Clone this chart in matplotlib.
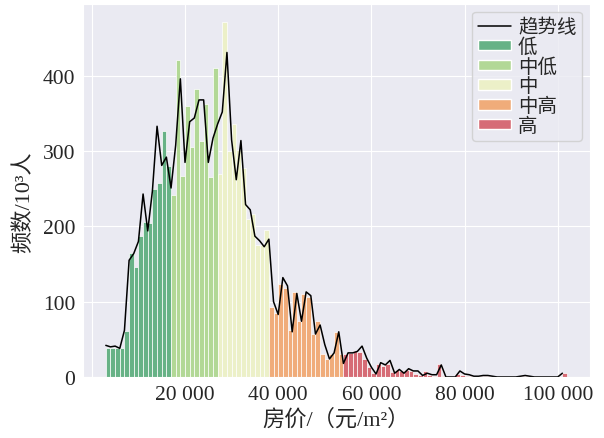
import matplotlib
matplotlib.use('Agg')
import matplotlib.pyplot as plt
import seaborn as sns
import numpy as np
from matplotlib.patches import Patch
from matplotlib.lines import Line2D

# bin left edges: 3000 .. 101000, width 1000
bin_start = 3000
bin_width = 1000

# bar heights (10^3 people) per bin
counts = [39, 39, 39, 39, 61, 165, 146, 187, 206, 204,
          250, 258, 327, 280,
          242, 421, 267, 360, 305, 382, 314, 362, 265, 410,
          269, 472, 300, 336, 302, 277, 210, 216, 175, 175, 195,
          93, 85, 124, 118, 62, 113, 74, 110, 106, 57, 75, 31, 24, 31, 60, 31,
          31, 32, 34, 33, 24, 13, 5, 17, 15, 17, 7, 9, 8, 9, 8, 4, 2, 8, 3, 1,
          17, 1, 0, 0, 4, 3, 1, 1, 0, 1, 1, 1, 0, 0, 0, 0, 0, 0, 1, 1,
          0, 0, 0, 0, 0, 0, 0, 5]

# trend line values, one per bin
trend = [42, 40, 41, 38, 62, 155, 164, 180, 243, 194,
         247, 333, 281, 292, 251, 308, 396, 285, 339, 344,
         368, 368, 285, 317, 336, 352, 431, 315, 262, 314,
         229, 222, 187, 181, 173, 183, 100, 83, 132, 121,
         60, 111, 74, 113, 108, 57, 69, 43, 24, 32,
         60, 18, 32, 32, 34, 41, 25, 13, 4, 19,
         16, 22, 5, 10, 5, 11, 8, 8, 2, 5,
         3, 3, 16, 0, 0, 0, 8, 4, 3, 1,
         1, 2, 2, 1, 0, 0, 0, 0, 0, 1,
         2, 1, 0, 0, 0, 0, 0, 0, 5]

# price classes: upper bound of each class and its colour
class_names = ['低', '中低', '中', '中高', '高']
class_upper = [17000, 27000, 38000, 54000, 200000]
class_colors = ['#67b286', '#b2d896', '#ecf0c8', '#f0ac7a', '#d66c76']

sns.set_style('darkgrid')
plt.rcParams['font.family'] = ['Liberation Serif', 'Noto Sans CJK SC', 'DejaVu Sans']

fig = plt.figure(figsize=(6.04, 4.39), dpi=100)
ax = fig.add_axes([0.137, 0.139, 0.840, 0.850])

edges = bin_start + bin_width * np.arange(len(counts))
bar_colors = [class_colors[np.searchsorted(class_upper, e, side='right')] for e in edges]
ax.bar(edges, counts, width=bin_width, align='edge', color=bar_colors,
       edgecolor='white', linewidth=0.5)
ax.plot(edges, trend, color='black', linewidth=1.1)

xt = np.arange(0, 100001, 20000)
ax.set_xticks(xt)
ax.set_xticklabels([''] + [f'{v:,}'.replace(',', ' ') for v in xt[1:]])
ax.set_yticks([0, 100, 200, 300, 400])
ax.tick_params(labelsize=15.5, pad=2)

ax.set_xlabel('房价/（元/m²）', fontsize=16)
ax.xaxis.set_label_coords(0.5, -0.085)
ax.set_ylabel('频数/10³人', fontsize=16)
ax.yaxis.set_label_coords(-0.095, 0.47)

handles = [Line2D([0], [0], color='black', linewidth=1.1)]
handles += [Patch(facecolor=c) for c in class_colors]
ax.legend(handles, ['趋势线'] + class_names, loc='upper right', fontsize=14,
          labelspacing=0.08, handlelength=1.7, handleheight=0.45,
          borderpad=0.3, handletextpad=0.35, borderaxespad=0.4)

fig.savefig('out.png', dpi=100)
